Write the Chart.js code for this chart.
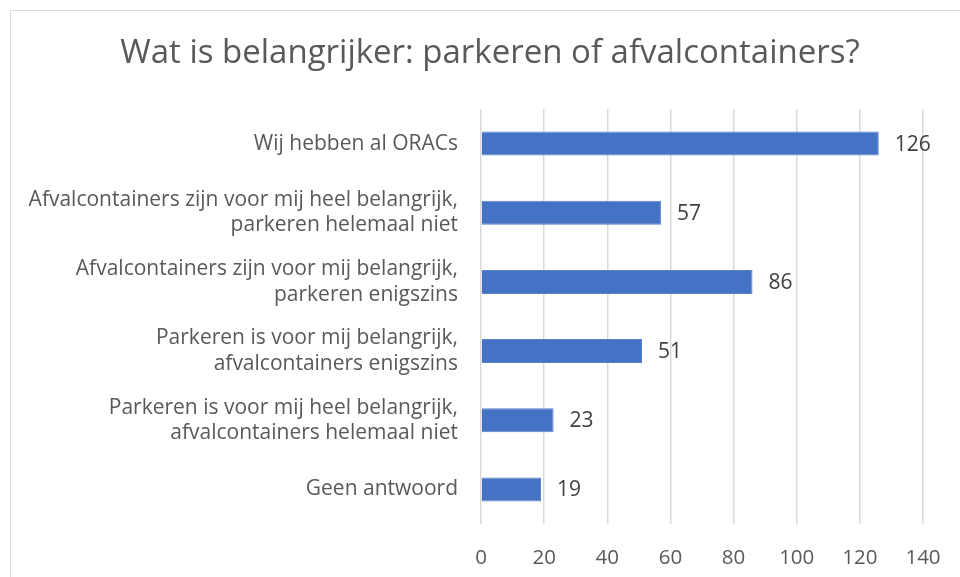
<!DOCTYPE html>
<html>
<head>
<meta charset="utf-8">
<script src="https://cdn.jsdelivr.net/npm/chart.js@4.4.1/dist/chart.umd.min.js"></script>
<style>
html,body{margin:0;padding:0;background:#fff;}
#wrap{position:relative;width:960px;height:577px;}
</style>
</head>
<body>
<div id="wrap"><canvas id="c" width="960" height="577"></canvas></div>
<script>
const chartTitle = "Wat is belangrijker: parkeren of afvalcontainers?";
const categories = [
  ["Wij hebben al ORACs"],
  ["Afvalcontainers zijn voor mij heel belangrijk,", "parkeren helemaal niet"],
  ["Afvalcontainers zijn voor mij belangrijk,", "parkeren enigszins"],
  ["Parkeren is voor mij belangrijk,", "afvalcontainers enigszins"],
  ["Parkeren is voor mij heel belangrijk,", "afvalcontainers helemaal niet"],
  ["Geen antwoord"]
];
const values = [126, 57, 86, 51, 23, 19];
const xTicks = [0, 20, 40, 60, 80, 100, 120, 140];

const FONT = "'Open Sans', Lato, sans-serif";

const frame = {
  id: 'frame',
  beforeDraw(chart) {
    const ctx = chart.ctx;
    ctx.save();
    ctx.fillStyle = '#fff';
    ctx.fillRect(0, 0, chart.width, chart.height);
    ctx.strokeStyle = '#d9d9d9';
    ctx.lineWidth = 1;
    ctx.strokeRect(10.5, 10.5, 1000, 1000);
    ctx.restore();
  }
};

const dataLabels = {
  id: 'dataLabels',
  afterDatasetsDraw(chart) {
    const ctx = chart.ctx;
    const meta = chart.getDatasetMeta(0);
    ctx.save();
    ctx.font = "21px " + FONT;
    ctx.fillStyle = '#404040';
    ctx.textAlign = 'left';
    ctx.textBaseline = 'middle';
    meta.data.forEach((bar, i) => {
      ctx.fillText(String(values[i]), bar.x + 16, bar.y + 1);
    });
    ctx.restore();
  }
};

new Chart(document.getElementById('c'), {
  type: 'bar',
  data: {
    labels: categories,
    datasets: [{
      data: values,
      backgroundColor: '#4472C4',
      borderColor: '#5a83cc',
      borderWidth: 1,
      categoryPercentage: 1,
      barPercentage: 0.347
    }]
  },
  options: {
    indexAxis: 'y',
    responsive: false,
    animation: false,
    layout: { padding: { left: 20, right: 0, top: 0, bottom: 0 } },
    plugins: {
      legend: { display: false },
      tooltip: { enabled: false },
      title: {
        display: true,
        text: chartTitle,
        color: '#595959',
        font: { family: FONT, size: 33, weight: 'normal', lineHeight: 1.2 },
        padding: { top: 34, bottom: 35.4 }
      }
    },
    scales: {
      x: {
        min: 0, max: 140,
        afterBuildTicks(scale) { scale.ticks = xTicks.map(v => ({ value: v })); },
        afterFit(scale) { scale.height = 53; scale.paddingRight = 37; },
        grid: { color: '#d9d9d9', lineWidth: 1.5, drawTicks: false },
        border: { display: false },
        ticks: { color: '#595959', font: { family: FONT, size: 20.5 }, padding: 22 }
      },
      y: {
        afterFit(scale) { scale.width = 461; },
        grid: { display: false, drawTicks: false },
        border: { display: false },
        ticks: { color: '#595959', font: { family: FONT, size: 21, lineHeight: 1.2 }, padding: 23, autoSkip: false }
      }
    }
  },
  plugins: [frame, dataLabels]
});
</script>
</body>
</html>
